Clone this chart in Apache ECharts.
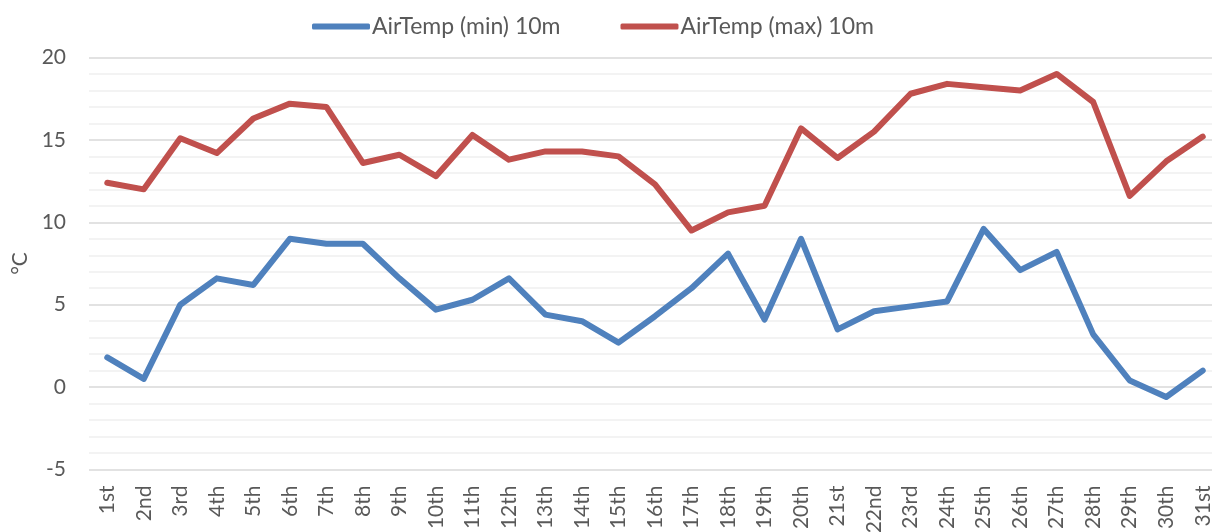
<!DOCTYPE html>
<html>
<head>
<meta charset="utf-8">
<script src="https://cdn.jsdelivr.net/npm/echarts@6/dist/echarts.min.js"></script>
<style>
  html, body { margin: 0; padding: 0; background: #fff; }
  #chart { width: 1212px; height: 532px; }
</style>
</head>
<body>
<div id="chart"></div>
<script>
const days = ["1st", "2nd", "3rd", "4th", "5th", "6th", "7th", "8th", "9th", "10th",
  "11th", "12th", "13th", "14th", "15th", "16th", "17th", "18th", "19th", "20th",
  "21st", "22nd", "23rd", "24th", "25th", "26th", "27th", "28th", "29th", "30th", "31st"];
const tempMin = [1.8, 0.5, 5.0, 6.6, 6.2, 9.0, 8.7, 8.7, 6.6, 4.7,
  5.3, 6.6, 4.4, 4.0, 2.7, 4.3, 6.0, 8.1, 4.1, 9.0,
  3.5, 4.6, 4.9, 5.2, 9.6, 7.1, 8.2, 3.2, 0.4, -0.6, 1.0];
const tempMax = [12.4, 12.0, 15.1, 14.2, 16.3, 17.2, 17.0, 13.6, 14.1, 12.8,
  15.3, 13.8, 14.3, 14.3, 14.0, 12.3, 9.5, 10.6, 11.0, 15.7,
  13.9, 15.5, 17.8, 18.4, 18.2, 18.0, 19.0, 17.3, 11.6, 13.7, 15.2];

const fontFam = "Lato, 'Open Sans', sans-serif";
const chart = echarts.init(document.getElementById("chart"));
chart.setOption({
  animation: false,
  legend: {
    top: 10,
    left: 307,
    itemGap: 60,
    itemWidth: 58,
    itemHeight: 6,
    icon: "roundRect",
    textStyle: { color: "#595959", fontSize: 23, fontFamily: fontFam, padding: [0, 0, 0, -3] },
    data: ["AirTemp (min) 10m", "AirTemp (max) 10m"],
  },
  grid: { left: 89, top: 57.5, width: 1132, height: 412, containLabel: false, outerBoundsMode: "none" },
  xAxis: {
    type: "category",
    data: days,
    boundaryGap: true,
    axisLine: { show: false },
    axisTick: { show: false },
    axisLabel: {
      rotate: 90,
      margin: 16,
      color: "#595959",
      fontSize: 21,
      fontFamily: fontFam,
    },
  },
  yAxis: {
    type: "value",
    min: -5,
    max: 20,
    interval: 5,
    name: "°C",
    nameLocation: "middle",
    nameGap: 58,
    nameTextStyle: { color: "#595959", fontSize: 21, fontFamily: fontFam },
    axisLine: { show: false },
    axisTick: { show: false },
    axisLabel: { color: "#595959", fontSize: 21, fontFamily: fontFam, margin: 23 },
    splitLine: { lineStyle: { color: "#d9d9d9", width: 1.5 } },
    minorTick: { show: false, splitNumber: 5 },
    minorSplitLine: { show: true, lineStyle: { color: "#f0f0f0", width: 1.5 } },
  },
  series: [
    {
      name: "AirTemp (min) 10m",
      type: "line",
      data: tempMin,
      color: "#4F81BD",
      symbol: "none",
      lineStyle: { width: 6, cap: "round", join: "round" },
    },
    {
      name: "AirTemp (max) 10m",
      type: "line",
      data: tempMax,
      color: "#C0504D",
      symbol: "none",
      lineStyle: { width: 6, cap: "round", join: "round" },
    },
  ],
});
</script>
</body>
</html>
